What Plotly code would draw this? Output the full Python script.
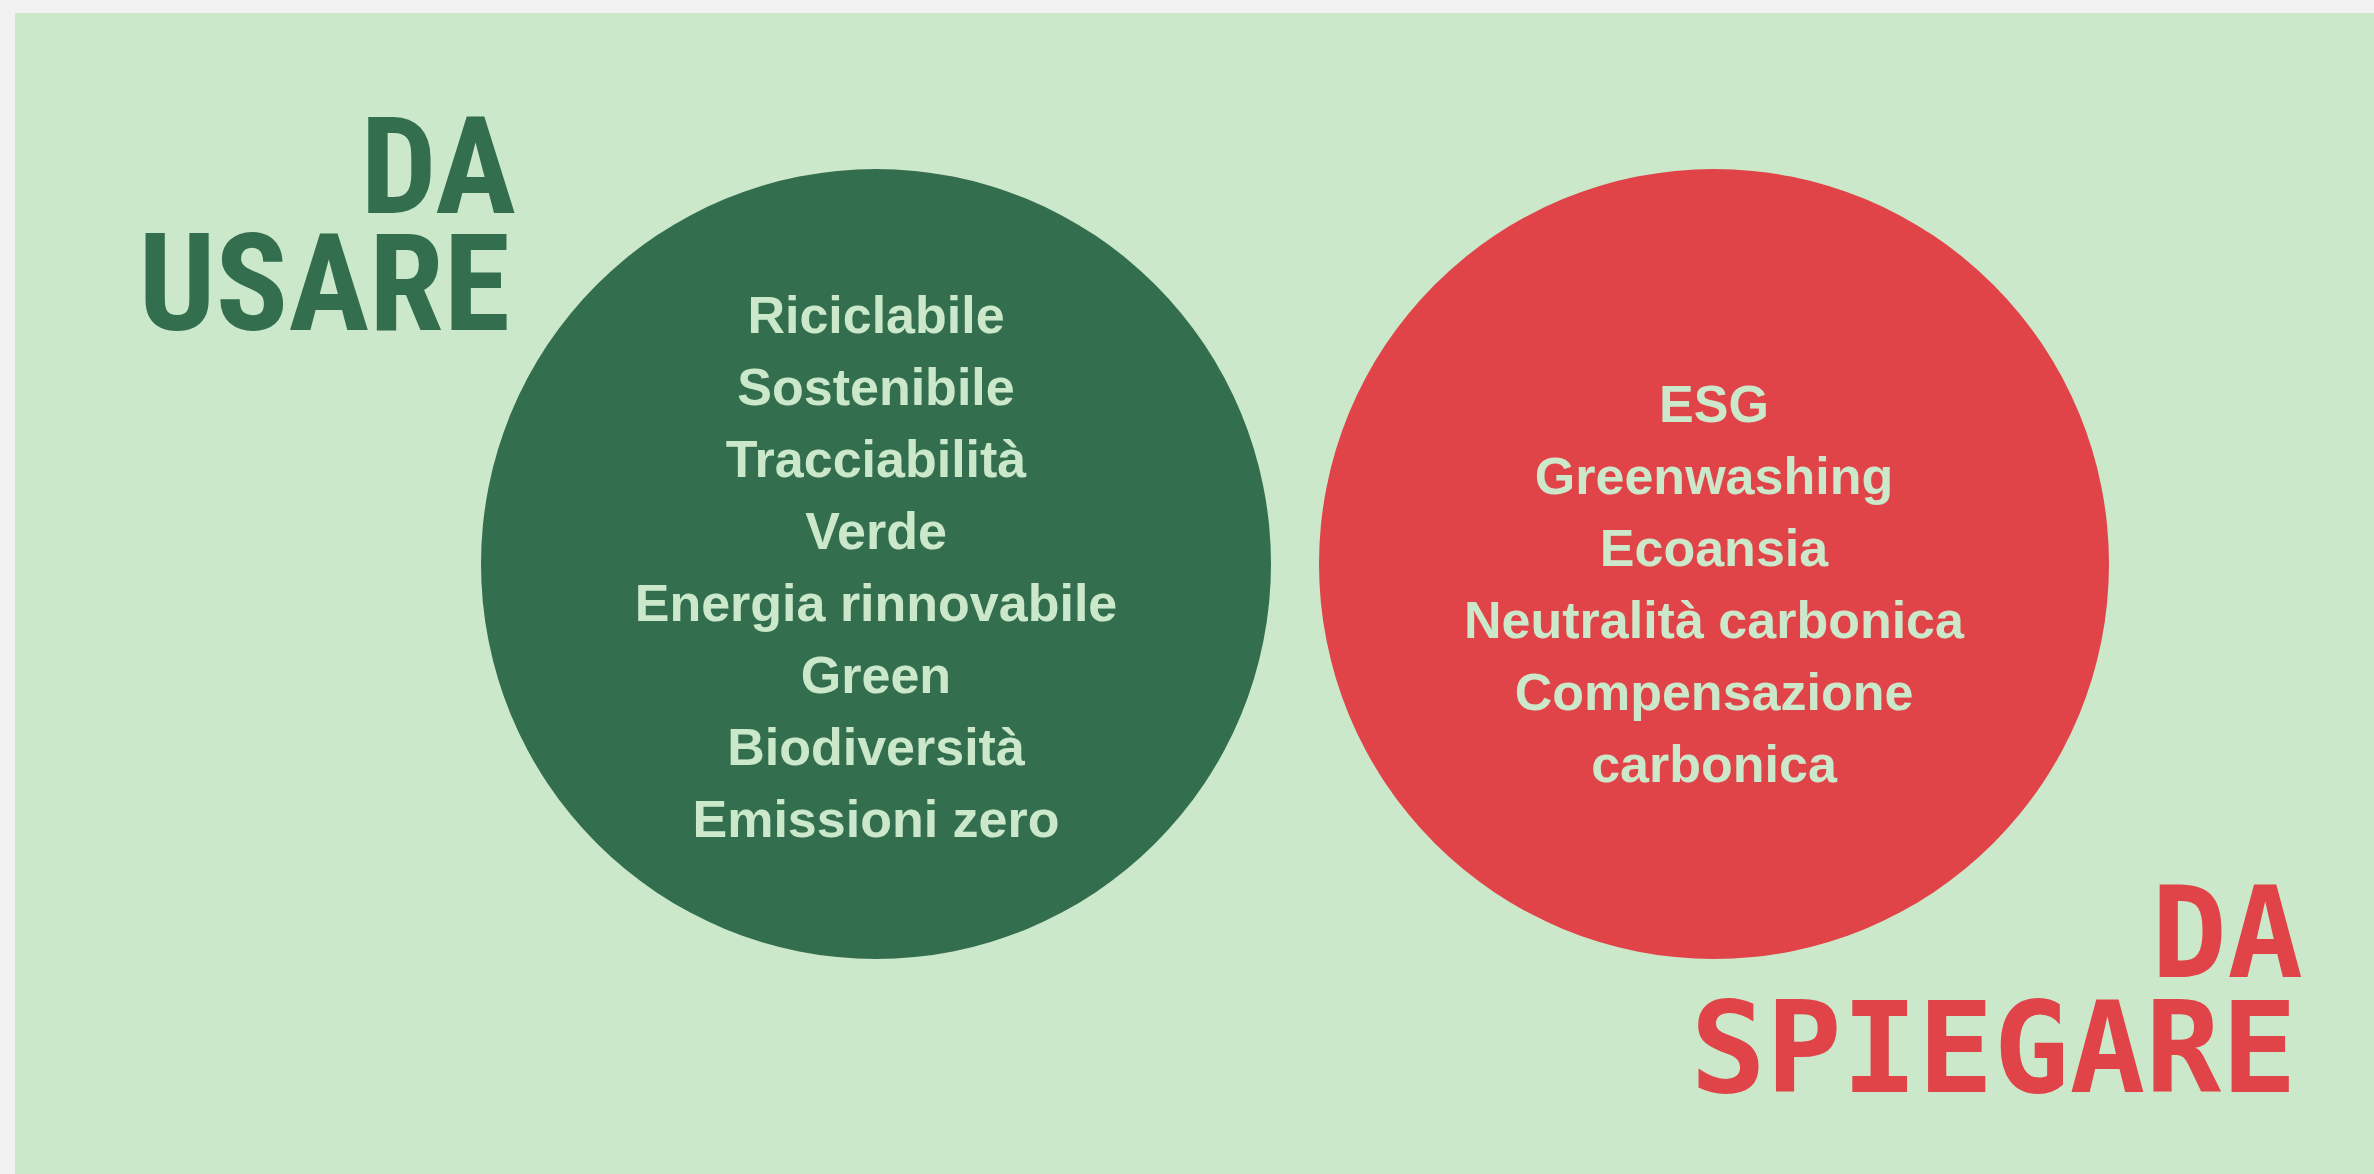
import plotly.graph_objects as go

# ---- data ----
words_use = ["Riciclabile", "Sostenibile", "Tracciabilità", "Verde",
             "Energia rinnovabile", "Green", "Biodiversità", "Emissioni zero"]
words_explain = ["ESG", "Greenwashing", "Ecoansia", "Neutralità carbonica",
                 "Compensazione", "carbonica"]
title_use = ["DA", "USARE"]
title_explain = ["DA", "SPIEGARE"]

# ---- style / layout constants ----
W, H = 2374, 1174
GRAY = "#f2f2f2"
LIGHT = "#cce8ca"
DARK_GREEN = "#336e4f"
RED = "#e04448"

LEFT_C = (876, 564)
RIGHT_C = (1714, 564)
R = 395
LINE_STEP = 72
USE_MID = 572
EXPLAIN_MID = 589

TEXT_FONT = "Liberation Sans, Arial, sans-serif"
TITLE_FONT = "Roboto Condensed, Liberation Sans Narrow, Roboto, sans-serif"
MONO_FONT = "DejaVu Sans Mono, Liberation Mono, monospace"

fig = go.Figure()

# background panel
fig.add_shape(type="rect", x0=15, y0=13, x1=W + 5, y1=H + 5, xref="x", yref="y",
              fillcolor=LIGHT, line_width=0, layer="below")
# circles
for (cx, cy), col in [(LEFT_C, DARK_GREEN), (RIGHT_C, RED)]:
    fig.add_shape(type="circle", x0=cx - R, x1=cx + R, y0=cy - R, y1=cy + R,
                  xref="x", yref="y", fillcolor=col, line_width=0, layer="below")


def line_ys(n, mid):
    start = mid - (n - 1) * LINE_STEP / 2
    return [start + i * LINE_STEP for i in range(n)]


for words, (cx, _), mid in [(words_use, LEFT_C, USE_MID),
                            (words_explain, RIGHT_C, EXPLAIN_MID)]:
    fig.add_trace(go.Scatter(
        x=[cx] * len(words), y=line_ys(len(words), mid),
        text=words, mode="text", textposition="middle center",
        textfont=dict(family=TEXT_FONT, size=52, color=LIGHT, weight="bold"),
        hoverinfo="skip", showlegend=False))

# titles
fig.add_trace(go.Scatter(
    x=[516, 510], y=[179, 296], text=title_use, mode="text",
    textposition="middle left",
    textfont=dict(family=TITLE_FONT, size=135, color=DARK_GREEN, weight="bold"),
    hoverinfo="skip", showlegend=False))

fig.add_trace(go.Scatter(
    x=[2303, 2297], y=[945, 1060], text=title_explain, mode="text",
    textposition="middle left",
    textfont=dict(family=MONO_FONT, size=126, color=RED, weight="bold"),
    hoverinfo="skip", showlegend=False))

fig.update_layout(
    width=W, height=H, autosize=False,
    margin=dict(l=0, r=0, t=0, b=0, pad=0),
    paper_bgcolor=GRAY, plot_bgcolor=GRAY,
    xaxis=dict(range=[0, W], visible=False, fixedrange=True),
    yaxis=dict(range=[H, 0], visible=False, fixedrange=True),
)

fig.write_html("out.html", config={"displayModeBar": False},
               post_script="document.body.style.margin='0';"
                           "document.body.style.overflow='hidden';")
